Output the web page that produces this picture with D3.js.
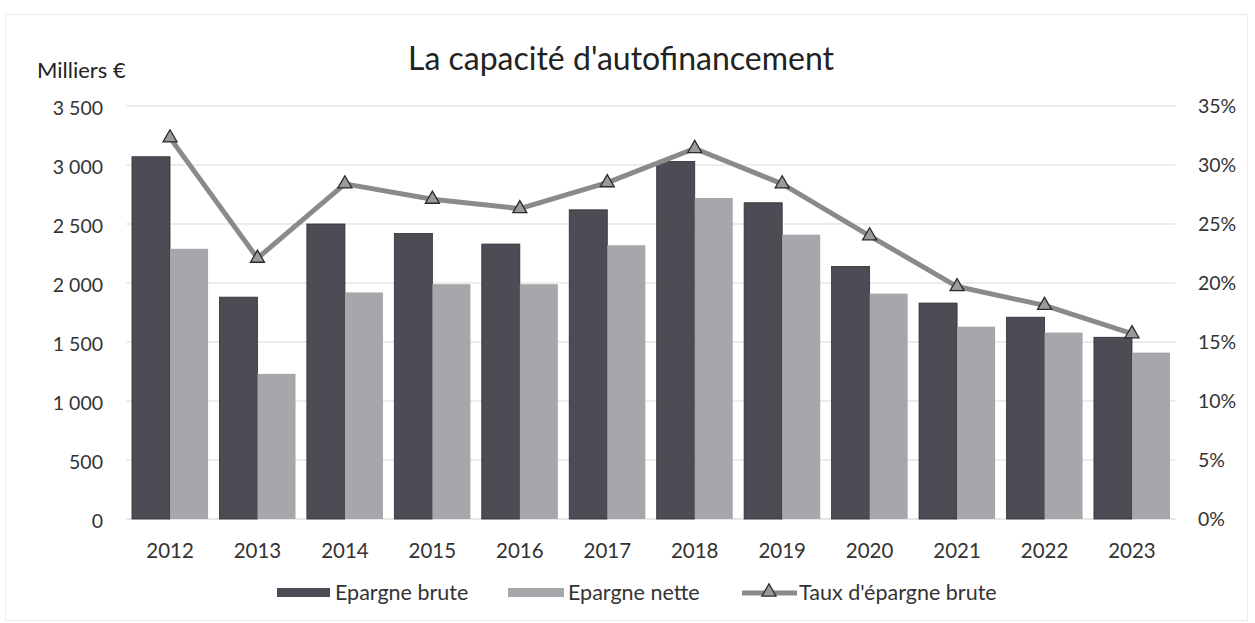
<!DOCTYPE html>
<html><head><meta charset="utf-8">
<script src="https://cdn.jsdelivr.net/npm/d3@7"></script>
<style>
html,body{margin:0;padding:0;background:#fff;}
svg{display:block;font-family:Lato,"Open Sans",sans-serif;}
</style></head>
<body>
<svg id="chart" width="1255" height="623"></svg>
<script>
const years = ["2012","2013","2014","2015","2016","2017","2018","2019","2020","2021","2022","2023"];
const epargneBrute = [3070,1880,2500,2420,2330,2620,3030,2680,2140,1830,1710,1540];
const epargneNette = [2290,1230,1920,1990,1990,2320,2720,2410,1910,1630,1580,1410];
const tauxEpargne = [0.323,0.221,0.284,0.271,0.263,0.285,0.314,0.284,0.240,0.197,0.181,0.157];
const leftTicks = [0,500,1000,1500,2000,2500,3000,3500];
const rightTicks = [0,0.05,0.10,0.15,0.20,0.25,0.30,0.35];
const title = "La capacité d'autofinancement";
const unitLabel = "Milliers €";
const seriesNames = ["Epargne brute","Epargne nette","Taux d'épargne brute"];

const svg = d3.select("#chart");
const L = 126.3, R = 1175.7, T = 106, B = 519;
const textColor = "#333333";
const FF = "Lato, 'Open Sans', sans-serif";

// frame
svg.append("rect").attr("x",5.5).attr("y",14.5).attr("width",1242).attr("height",606)
  .attr("fill","#fff").attr("stroke","#ececec");

const x = d3.scaleBand().domain(years).range([L,R]).paddingInner(0.13).paddingOuter(0.065);
const xs = d3.scaleBand().domain([0,1]).range([0,x.bandwidth()]);
const y = d3.scaleLinear().domain([0,3500]).range([B,T]);
const y2 = d3.scaleLinear().domain([0,0.35]).range([B,T]);
const fmtThousand = d => d >= 1000 ? Math.floor(d/1000) + " " + String(d%1000).padStart(3,"0") : String(d);

// gridlines
svg.append("g").selectAll("line").data(leftTicks.filter(d=>d>0)).join("line")
  .attr("x1",L).attr("x2",R).attr("y1",d=>y(d)).attr("y2",d=>y(d))
  .attr("stroke","#d9d9d9").attr("stroke-width",1);
svg.append("line").attr("x1",L).attr("x2",R).attr("y1",B).attr("y2",B).attr("stroke","#d0d0d0");

// left axis
const la = svg.append("g").attr("transform",`translate(103,2)`)
  .call(d3.axisLeft(y).tickValues(leftTicks).tickSize(0).tickPadding(0).tickFormat(fmtThousand));
la.select(".domain").remove();
la.selectAll("text").attr("font-size",19.5).attr("fill",textColor).attr("font-family",FF);

// right axis
const ra = svg.append("g").attr("transform",`translate(1198,0)`)
  .call(d3.axisRight(y2).tickValues(rightTicks).tickSize(0).tickPadding(0).tickFormat(d3.format(".0%")));
ra.select(".domain").remove();
ra.selectAll("text").attr("font-size",19.5).attr("fill",textColor).attr("font-family",FF);

// x axis
const xa = svg.append("g").attr("transform",`translate(0,${B+21})`)
  .call(d3.axisBottom(x).tickSize(0));
xa.select(".domain").remove();
xa.selectAll("text").attr("font-size",20.5).attr("fill",textColor).attr("font-family",FF);

// bars
const colDark = "#4c4c54", colLight = "#a7a7ab";
svg.append("g").selectAll("rect").data(years).join("rect")
  .attr("x",(d)=>x(d)+xs(0)).attr("width",xs.bandwidth())
  .attr("y",(d,i)=>y(epargneBrute[i])).attr("height",(d,i)=>B-y(epargneBrute[i]))
  .attr("fill",colDark).attr("stroke","#2e2e33").attr("stroke-width",0.8);
svg.append("g").selectAll("rect").data(years).join("rect")
  .attr("x",(d)=>x(d)+xs(1)).attr("width",xs.bandwidth())
  .attr("y",(d,i)=>y(epargneNette[i])).attr("height",(d,i)=>B-y(epargneNette[i]))
  .attr("fill",colLight);

// line
const cx = d => x(d)+x.bandwidth()/2;
const line = d3.line().x((d,i)=>cx(years[i])).y(d=>y2(d));
svg.append("path").datum(tauxEpargne).attr("d",line)
  .attr("fill","none").attr("stroke","#8a8a8a").attr("stroke-width",5).attr("stroke-linejoin","round");
const tri = d3.symbol().type(d3.symbolTriangle).size(85);
svg.append("g").selectAll("path").data(tauxEpargne).join("path")
  .attr("d",tri).attr("transform",(d,i)=>`translate(${cx(years[i])},${y2(d)})`)
  .attr("fill","#9a9a9e").attr("stroke","#2a2a2a").attr("stroke-width",1.3);

// title
svg.append("text").attr("x",621).attr("y",70).attr("text-anchor","middle")
  .attr("font-size",32).attr("fill","#222").attr("font-family",FF).text(title);
svg.append("text").attr("x",37).attr("y",78).attr("font-size",22).attr("fill","#222")
  .attr("font-family",FF).text(unitLabel);

// legend
const lg = svg.append("g").attr("font-size",21.5).attr("font-family",FF);
lg.append("rect").attr("x",277).attr("y",588).attr("width",53).attr("height",9).attr("fill",colDark);
lg.append("text").attr("x",335).attr("y",600).attr("fill",textColor).text(seriesNames[0]);
lg.append("rect").attr("x",508).attr("y",588).attr("width",56).attr("height",9).attr("fill",colLight);
lg.append("text").attr("x",568).attr("y",600).attr("fill",textColor).text(seriesNames[1]);
lg.append("line").attr("x1",742).attr("x2",797).attr("y1",593).attr("y2",593).attr("stroke","#8a8a8a").attr("stroke-width",5);
lg.append("path").attr("d",tri).attr("transform","translate(769,592)").attr("fill","#9a9a9e").attr("stroke","#2a2a2a").attr("stroke-width",1.3);
lg.append("text").attr("x",799).attr("y",600).attr("fill",textColor).text(seriesNames[2]);
</script>
</body></html>
